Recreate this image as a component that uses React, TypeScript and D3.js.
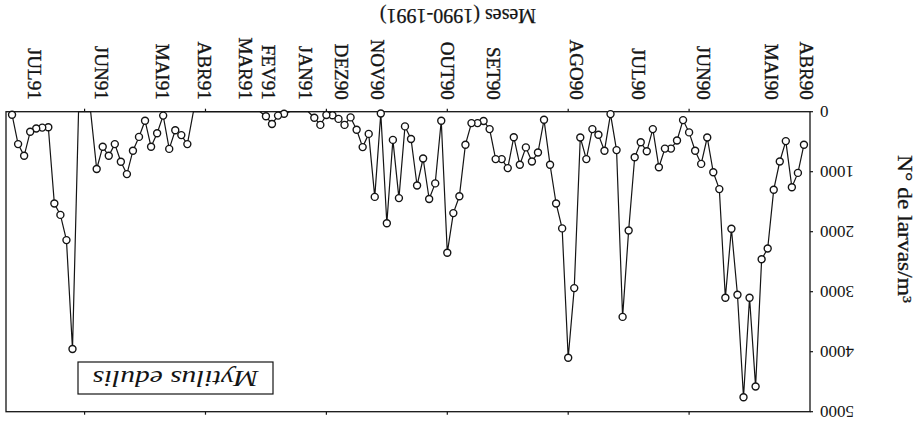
import React from 'react';
import * as d3 from 'd3';

const W = 916;
const H = 427;

// Mytilus edulis larvae per m3, sample number 1..132 (Apr 1990 - Jul 1991)
const larvae: number[] = [
  550, 1020, 1260, 490, 830, 1300, 2280, 2460, 4580, 3100,
  4760, 3050, 1950, 3100, 1290, 1010, 430, 870, 650, 345,
  140, 480, 615, 615, 925, 290, 660, 510, 760, 1980,
  3420, 640, 40, 650, 385, 290, 790, 430, 2940, 4100,
  1945, 1530, 885, 135, 680, 830, 595, 885, 425, 940,
  790, 790, 290, 155, 190, 190, 550, 1410, 1690, 2350,
  150, 1195, 1455, 780, 1230, 455, 245, 1440, 470, 1860,
  30, 1420, 370, 590, 300, 95, 220, 120, 60, 55,
  220, 100, 0, 0, 0, 0, 35, 65, 205, 75,
  0, 0, 0, 0, 0, 0, 0, 0, 0, 0,
  0, 0, 540, 390, 310, 620, 65, 360, 585, 150,
  420, 650, 1040, 835, 540, 735, 585, 955, 0, 0,
  0, 3955, 2140, 1720, 1530, 260, 265, 280, 335, 735,
  540, 50,
];

const monthLabels: string[] = [
  'ABR90', 'MAI90', 'JUN90', 'JUL90', 'AGO90', 'SET90', 'OUT90', 'NOV90',
  'DEZ90', 'JAN91', 'FEV91', 'MAR91', 'ABR91', 'MAI91', 'JUN91', 'JUL91',
];
// position of each month label, in sample-number units
const monthAt: number[] = [
  0.6, 6.4, 17.6, 28.4, 38.6, 52.4, 60.0, 71.5,
  77.4, 83.5, 89.5, 93.3, 100.2, 107.1, 117.2, 128.2,
];

const yTicks: number[] = [0, 1000, 2000, 3000, 4000, 5000];
const sampleTicks: number[] = [20, 40, 60, 80, 100, 120];

const xTitle = 'Meses (1990-1991)';
const yTitle = 'N° de larvas/m³';
const species = 'Mytilus edulis';

const FONT = "'Liberation Serif', 'DejaVu Serif', serif";

export default function App() {
  const left = 106, right = 910, top = 15.3, bottom = 315.3;
  const x = d3.scaleLinear().domain([0, 133]).range([left, right]);
  const y = d3.scaleLinear().domain([0, 5000]).range([bottom, top]);
  const line = d3
    .line<number>()
    .x((_, i) => x(i + 1))
    .y((d) => y(d));

  const ink = '#141414';

  return (
    <svg
      width={W}
      height={H}
      style={{ position: 'absolute', left: 0, top: 0, background: '#fff' }}
    >
      <rect x={0} y={0} width={W} height={H} fill="#fff" />
      <g transform={`rotate(180 ${W / 2} ${H / 2})`} fontFamily={FONT} fill={ink}>
        {/* frame */}
        <rect
          x={left}
          y={top}
          width={right - left}
          height={bottom - top}
          fill="none"
          stroke={ink}
          strokeWidth={1.3}
        />
        {/* frame ticks top & bottom */}
        {sampleTicks.map((t) => (
          <g key={'st' + t}>
            <line x1={x(t)} x2={x(t)} y1={top} y2={top - 3} stroke={ink} strokeWidth={1.2} />
            <line x1={x(t)} x2={x(t)} y1={bottom} y2={bottom + 3} stroke={ink} strokeWidth={1.2} />
          </g>
        ))}
        {/* y ticks and labels */}
        {yTicks.map((t) => (
          <g key={'yt' + t}>
            <line x1={left} x2={left - 3} y1={y(t)} y2={y(t)} stroke={ink} strokeWidth={1.2} />
            <text
              x={left - 10}
              y={y(t)}
              dy="0.35em"
              textAnchor="end"
              fontSize={17}
            >
              {t}
            </text>
          </g>
        ))}
        {/* month labels */}
        {monthLabels.map((m, i) => (
          <text
            key={m}
            transform={`translate(${x(monthAt[i])},${bottom + 12}) rotate(-90)`}
            dy="0.35em"
            textAnchor="end"
            fontSize={19}
            stroke={ink}
            strokeWidth={0.35}
          >
            {m}
          </text>
        ))}
        {/* axis titles */}
        <text x={458} y={418} textAnchor="middle" fontSize={20} stroke={ink} strokeWidth={0.25}>
          {xTitle}
        </text>
        <text
          transform={`translate(11,${198}) rotate(-90)`}
          dy="0.35em"
          textAnchor="middle"
          fontSize={20}
          textLength={148}
          lengthAdjust="spacingAndGlyphs"
          stroke={ink}
          strokeWidth={0.25}
        >
          {yTitle}
        </text>
        {/* series line */}
        <path d={line(larvae) || ''} fill="none" stroke={ink} strokeWidth={1.2} />
        {larvae.map((v, i) =>
          v > 0 ? (
            <circle
              key={'p' + i}
              cx={x(i + 1)}
              cy={y(v)}
              r={3.5}
              fill="#fff"
              stroke={ink}
              strokeWidth={1.4}
            />
          ) : null
        )}
        {/* legend box */}
        <rect x={643} y={33} width={195} height={32} fill="#fff" stroke={ink} strokeWidth={1.2} />
        <text
          x={740.5}
          y={56}
          textAnchor="middle"
          fontSize={23}
          fontStyle="italic"
          textLength={166}
          lengthAdjust="spacingAndGlyphs"
        >
          {species}
        </text>
      </g>
    </svg>
  );
}
